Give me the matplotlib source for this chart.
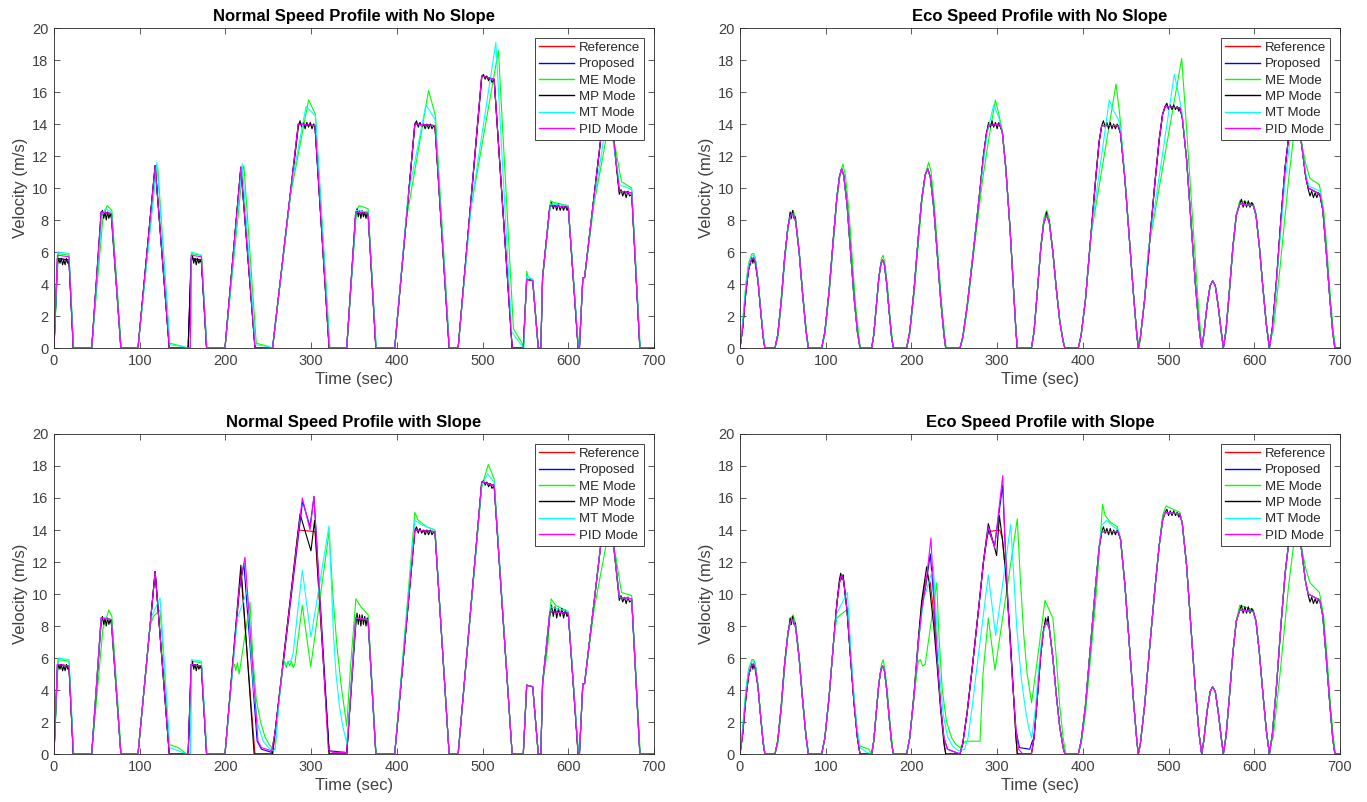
import numpy as np
import matplotlib
matplotlib.use("Agg")
import matplotlib.pyplot as plt

plt.rcParams['font.family'] = ['Liberation Sans', 'DejaVu Sans']

TITLES = ["Normal Speed Profile with No Slope", "Eco Speed Profile with No Slope",
          "Normal Speed Profile with Slope", "Eco Speed Profile with Slope"]
SERIES = ["Reference", "Proposed", "ME Mode", "MP Mode", "MT Mode", "PID Mode"]
COLORS = ["#ff0000", "#0000ff", "#00ff00", "#000000", "#00ffff", "#ff00ff"]
XTICKS = [0, 100, 200, 300, 400, 500, 600, 700]
YTICKS = [0, 2, 4, 6, 8, 10, 12, 14, 16, 18, 20]

# ---------------- reference profiles (time s, velocity m/s) ----------------
NORMAL_REF = [(0, 0), (4, 5.6), (17.5, 5.5), (22.5, 0), (44, 0), (55, 8.5), (67, 8.4), (78, 0), (98, 0),
              (118, 11.4), (134.5, 0), (156.5, 0), (160, 5.6), (172, 5.5), (178, 0), (199.5, 0), (218, 11.3),
              (234.5, 0), (255, 0), (285, 14), (304.5, 13.9), (321, 0), (341.5, 0), (352, 8.5), (366.5, 8.4),
              (375.5, 0), (397.5, 0), (421, 14), (444.5, 13.9), (461, 0), (471.5, 0), (499, 17), (513.5, 16.8),
              (534.5, 0), (547.5, 0), (551.5, 4.3), (558.5, 4.2), (565, 0), (568, 0), (570, 4.4), (578.5, 8.9),
              (600, 8.8), (611.5, 0), (613, 0), (617, 4.4), (619, 4.4), (641, 14.5), (650, 14.5), (659.5, 9.8),
              (674, 9.7), (683.5, 0), (700, 0)]

ECO_REF = [(0, 0), (3, 1.2), (7, 3.6), (10, 4.9), (13, 5.5), (15.6, 5.6), (18, 5.4), (21, 4.2), (24, 2.4),
           (27, 0.7), (29, 0), (40.8, 0), (44, 0.8), (48, 2.9), (52, 5.6), (56, 7.6), (59, 8.3), (62, 8.4),
           (65, 7.9), (69, 6.0), (73, 3.4), (77, 1.1), (79.7, 0), (95.3, 0), (99, 1.0), (104, 3.6), (109, 6.9),
           (113, 9.4), (116, 10.7), (118.6, 11.2), (121, 10.8), (125, 8.9), (129, 6.0), (133, 3.2), (137, 1.0),
           (140, 0), (153.6, 0), (156, 0.8), (159, 2.6), (162, 4.4), (164.5, 5.3), (166.4, 5.5), (168.5, 5.2),
           (171, 4.1), (174, 2.3), (177, 0.6), (179, 0), (194.4, 0), (198, 1.0), (203, 3.6), (208, 6.9),
           (212, 9.3), (216, 10.8), (219, 11.2), (222, 10.7), (226, 8.8), (230, 6.0), (234, 3.1), (238, 0.8),
           (240, 0), (256.7, 0), (260, 0.7), (265, 2.6), (272, 5.9), (279, 9.4), (284, 12.0), (287.5, 13.4),
           (290, 13.9), (303, 14.0), (306, 13.5), (310, 11.3), (315, 7.5), (319, 3.8), (322, 1.0), (323.5, 0),
           (340, 0), (343, 1.0), (347, 3.6), (351, 6.3), (354.5, 7.9), (357.8, 8.3), (361, 7.8), (365, 6.0),
           (369, 3.7), (373, 1.7), (377, 0.4), (379, 0), (394.7, 0), (398, 0.8), (403, 3.0), (409, 6.8),
           (415, 10.6), (419, 12.9), (422, 13.9), (441.4, 13.9), (444, 13.4), (449, 10.6), (454, 7.0),
           (459, 3.4), (463, 0.8), (464.7, 0), (467, 0.6), (472, 3.0), (478, 6.7), (484, 10.3), (489, 13.0),
           (493, 14.6), (496, 15.1), (513.3, 15.0), (516, 14.4), (521, 11.8), (526, 8.0), (531, 4.2),
           (535.5, 1.3), (538.6, 0), (541, 0.8), (545, 2.7), (548.5, 3.9), (551.4, 4.2), (554.5, 3.9),
           (558, 2.6), (561.5, 1.0), (563.9, 0), (567, 1.1), (571, 3.6), (575, 6.3), (579, 8.3), (583, 9.0),
           (598.9, 8.9), (602, 8.3), (606, 6.3), (610, 3.8), (614, 1.5), (617.6, 0), (621, 1.2), (626, 4.3),
           (631, 8.0), (636, 11.3), (641, 13.6), (646, 14.6), (650, 14.5), (655, 12.8), (660, 10.7),
           (663, 10.0), (670, 9.8), (676.7, 9.6), (680, 8.6), (684, 6.0), (688, 3.2), (691.5, 1.0), (694, 0),
           (700, 0)]

# ---------------- Normal profile, no slope: where modes depart from reference ----------------
NS_PROP = []
NS_ME = [
    [(0, 0), (5, 5.9), (17.5, 5.8), (23, 0)],
    [(44, 0), (57, 8.1), (62, 8.9), (67.5, 8.6), (78.5, 0)],
    [(98, 0), (119, 11.0), (121, 11.3), (135, 0.3), (150, 0.1), (155, 0)],
    [(159, 0), (160.5, 5.9), (172, 5.8), (178.5, 0)],
    [(199.5, 0), (220, 11.1), (221.5, 11.4), (236, 0.3), (250, 0.1), (254, 0)],
    [(255, 0), (275, 9.3), (297, 15.5), (305, 14.6), (322, 0)],
    [(341.5, 0), (353, 8.6), (356, 8.9), (366.5, 8.7), (376, 0)],
    [(397.5, 0), (411, 8.0), (437, 16.1), (445, 14.5), (461.5, 0)],
    [(471.5, 0), (485, 8.3), (518.5, 18.6), (536, 1.2), (546, 0.3), (548, 0), (551.5, 4.8), (553, 4.4),
     (558.5, 4.3), (565, 0)],
    [(568, 0), (570, 4.3), (579.5, 9.2), (583, 9.1), (600, 8.9), (612, 0)],
    [(617, 4.4), (619, 4.4), (630, 9.0), (648, 14.2), (655, 12.5), (662, 10.4), (674, 10.0), (684, 0)],
]
NS_MT = [
    [(0, 0), (4.5, 6.0), (17.5, 5.9), (22.8, 0)],
    [(44, 0), (56, 8.4), (60, 8.7), (67, 8.5), (78, 0)],
    [(98, 0), (120, 11.6), (135, 0.2), (150, 0.1), (155, 0)],
    [(159, 0), (160.3, 6.0), (172, 5.8), (178.3, 0)],
    [(199.5, 0), (219.5, 11.5), (235, 0.2), (250, 0.1), (254, 0)],
    [(255, 0), (278, 10.5), (294, 15.1), (305, 14.5), (321.5, 0)],
    [(341.5, 0), (352.5, 8.6), (366.5, 8.5), (375.8, 0)],
    [(397.5, 0), (413, 9.5), (434, 15.2), (444.5, 14.3), (461.2, 0)],
    [(471.5, 0), (487, 9.0), (515.5, 19.1), (534, 1.0), (545, 0.2), (548, 0), (551.5, 4.5), (558.5, 4.3),
     (565, 0)],
    [(568, 0), (570, 4.4), (579, 9.0), (600, 8.9), (611.8, 0)],
    [(617, 4.4), (619, 4.4), (628, 8.5), (645, 14.3), (652, 13.0), (660, 10.2), (674, 9.9), (683.7, 0)],
]
NS_MP = [
    [(4, 5.2), (5.5, 5.6), (7, 5.3), (8.5, 5.6), (10, 5.2), (11.5, 5.5), (13, 5.2), (14.5, 5.6), (16, 5.3),
     (17.5, 5.4)],
    [(55, 8.2), (56.5, 8.6), (58, 8.1), (59.5, 8.5), (61, 8.0), (62.5, 8.5), (64, 8.1), (65.5, 8.4),
     (67, 8.1)],
    [(160, 5.3), (161.5, 5.8), (163, 5.3), (164.5, 5.6), (166, 5.2), (167.5, 5.6), (169, 5.3), (170.5, 5.5),
     (172, 5.3)],
    [(285, 13.8), (287, 14.2), (289, 13.8), (291, 14.1), (293, 13.7), (295, 14.1), (297, 13.8), (299, 14.1),
     (301, 13.7), (303, 14.0), (304.5, 13.8)],
    [(352, 8.3), (353.5, 8.7), (355, 8.2), (356.5, 8.6), (358, 8.1), (359.5, 8.6), (361, 8.2), (362.5, 8.5),
     (364, 8.1), (365.5, 8.5), (366.5, 8.3)],
    [(421, 14.0), (423, 14.2), (425, 13.8), (427, 14.1), (429, 13.8), (431, 14.0), (433, 13.7), (435, 14.0),
     (437, 13.7), (439, 14.0), (441, 13.7), (443, 13.9), (444.5, 13.8)],
    [(499, 16.9), (501, 17.1), (503, 16.8), (505, 17.0), (507, 16.7), (509, 16.9), (511, 16.6),
     (513.5, 16.8)],
    [(578.5, 8.8), (580.5, 9.1), (582.5, 8.7), (584.5, 9.0), (586.5, 8.6), (588.5, 9.0), (590.5, 8.6),
     (592.5, 8.9), (594.5, 8.6), (596.5, 8.9), (598.5, 8.6), (600, 8.8)],
    [(659.5, 9.6), (661.5, 9.9), (663.5, 9.5), (665.5, 9.8), (667.5, 9.4), (669.5, 9.8), (671.5, 9.5),
     (674, 9.6)],
]
NS_PID = [
    [(0, 0), (4, 5.8), (17.5, 5.7), (22.5, 0)],
    [(159, 0), (160, 5.8), (172, 5.7), (178, 0)],
]

# ---------------- Normal profile, with slope ----------------
NL_PROP = [
    [(199.5, 0), (216, 10.2), (221.5, 11.9), (237, 0.8), (242, 0.3), (254, 0.1), (258, 1.4), (290, 15.8),
     (298.7, 14.2), (303.3, 16.1), (321, 0.2), (340, 0.1), (341.5, 0)],
]
NL_ME = [
    [(0, 0), (5, 5.9), (17.5, 5.8), (23, 0)],
    [(44, 0), (57, 7.8), (64, 9.0), (67.5, 8.6), (78.5, 0)],
    [(98, 0), (112, 8.0), (116, 8.6), (123.7, 9.0), (126, 7.4), (134.5, 0.6), (145, 0.4), (155, 0)],
    [(159, 0), (160.5, 5.8), (172, 5.7), (178.5, 0)],
    [(199.5, 0), (208.5, 5.5), (210.5, 5.6), (212, 5.2), (214, 5.7), (216, 5.0), (228.7, 9.5), (232, 6.0),
     (236, 3.4), (241, 2.0), (246, 1.1), (251, 0.6), (256, 0.3), (258, 0.3), (262, 3.0), (266.8, 5.5),
     (269, 5.8), (271, 5.4), (273, 5.8), (275, 5.5), (277, 5.8), (279, 5.4), (281, 5.6), (289.7, 9.3),
     (299.5, 5.45), (321, 13.9), (325, 10.2), (330, 6.8), (335, 4.3), (341.5, 1.75), (346, 5.5),
     (352.2, 9.7), (358, 9.2), (366.5, 8.7), (375.8, 0)],
    [(397.5, 0), (421, 15.1), (425, 14.6), (435, 14.2), (444.5, 14.0), (461, 0)],
    [(471.5, 0), (499, 16.7), (506.7, 18.1), (513.5, 17.2), (534.5, 0)],
    [(568, 0), (570, 4.3), (576, 6.7), (580, 9.7), (585, 9.3), (600, 8.9), (612, 0)],
    [(617, 4.4), (619, 4.4), (630, 9.0), (648, 14.2), (655, 12.5), (662, 10.1), (674, 9.9), (684, 0)],
]
NL_MT = [
    [(0, 0), (4.5, 6.0), (17.5, 5.9), (22.8, 0)],
    [(98, 0), (113, 8.5), (123.7, 9.75), (126, 8.0), (135, 0.4), (145, 0.2), (155, 0)],
    [(159, 0), (160.3, 5.9), (172, 5.8), (178.3, 0)],
    [(199.5, 0), (214, 8.5), (225.6, 10.25), (229, 7.0), (233, 4.0), (238, 1.8), (244, 0.8), (250, 0.4),
     (256, 0.2), (258, 0.3), (262, 3.0), (266.8, 5.5), (275, 5.8), (277, 5.9), (279, 6.3), (289.7, 11.5),
     (299.8, 7.3), (320.8, 14.25), (323, 11.5), (326, 7.5), (329, 5.0), (333, 3.0), (337, 1.7),
     (341.5, 0.7), (344, 2.2), (352, 8.5)],
    [(397.5, 0), (421, 14.6), (430, 14.3), (444.5, 14.0), (461, 0)],
    [(471.5, 0), (499, 16.8), (506, 17.5), (513.5, 17.0), (534.5, 0)],
    [(568, 0), (570, 4.4), (579, 9.2), (600, 8.9), (611.8, 0)],
]
NL_MP = [
    NS_MP[0], NS_MP[1], NS_MP[2],
    [(199.5, 0), (218, 11.8), (233.5, 0)],
    [(255, 0), (287, 15.0), (299.8, 12.7), (304, 14.6), (321, 0)],
    [(352, 8.0), (353.5, 8.8), (355, 8.1), (356.5, 8.7), (358, 8.0), (359.5, 8.7), (361, 8.1), (362.5, 8.6),
     (364, 8.0), (365.5, 8.5), (366.5, 8.2)],
    NS_MP[5], NS_MP[6],
    [(578.5, 8.7), (580.5, 9.3), (582.5, 8.6), (584.5, 9.2), (586.5, 8.5), (588.5, 9.1), (590.5, 8.6),
     (592.5, 9.1), (594.5, 8.5), (596.5, 9.0), (598.5, 8.6), (600, 8.8)],
    NS_MP[8],
]
NL_PID = [
    [(199.5, 0), (216, 10.3), (222.8, 12.3), (238, 0.8), (242, 0.4), (254, 0.2), (258, 1.4), (289.7, 16.0),
     (298.7, 14.0), (303.3, 16.1), (320, 0.3), (325, 0.1), (340, 0.1), (341.5, 0)],
]

# ---------------- Eco profile, no slope ----------------
ES_PROP = []
ES_ME = [
    [(0, 0), (3, 1.6), (7, 4.1), (10, 5.3), (14, 5.9), (16, 5.9), (18, 5.6), (21, 4.3), (24, 2.5), (27, 0.8),
     (29.5, 0)],
    [(40.8, 0), (44, 0.6), (48, 2.6), (52, 5.3), (56, 7.5), (59.5, 8.4), (62, 8.6), (65, 8.1), (69, 6.2),
     (73, 3.6), (77, 1.3), (80, 0)],
    [(95.3, 0), (99, 0.8), (104, 3.3), (109, 6.6), (113, 9.2), (117, 10.9), (120, 11.5), (123, 10.8),
     (127, 8.6), (131, 5.6), (135, 2.6), (139, 0.6), (140.5, 0)],
    [(153.6, 0), (156, 0.8), (159, 2.6), (162, 4.4), (165, 5.6), (167, 5.8), (169, 5.3), (172, 3.9),
     (175, 2.0), (178, 0.4), (179.5, 0)],
    [(194.4, 0), (198, 0.8), (203, 3.3), (208, 6.5), (212, 9.0), (216, 10.8), (220, 11.6), (223, 11.0),
     (227, 8.8), (231, 5.8), (235, 2.9), (239, 0.7), (240.5, 0)],
    [(256.7, 0), (260, 0.6), (265, 2.4), (275, 7.0), (283, 10.5), (290, 13.0), (298, 15.5), (302, 14.6),
     (306, 13.6), (310, 11.4), (315, 7.6), (319, 3.9), (322, 1.1), (324, 0)],
    [(340, 0), (343, 1.0), (347, 3.6), (351, 6.4), (354.5, 8.1), (358, 8.6), (361, 8.0), (365, 6.1),
     (369, 3.8), (373, 1.8), (377, 0.5), (379.5, 0)],
    [(394.7, 0), (398, 0.8), (403, 3.0), (410, 7.2), (438.7, 16.5), (443, 14.6), (447, 12.0), (452, 8.6),
     (457, 4.9), (461, 2.0), (464.7, 0.3), (465.5, 0)],
    [(467, 0.6), (472, 3.0), (476.4, 6.1), (515.3, 18.1), (520, 14.5), (525, 10.5), (530, 6.5), (535, 2.5),
     (539, 0)],
    [(563.9, 0), (567, 1.0), (571, 3.4), (575, 6.1), (579, 8.3), (583, 9.2), (598.9, 9.0), (602, 8.4),
     (606, 6.4), (610, 3.9), (614, 1.6), (617.6, 0)],
    [(619, 0.6), (622, 1.0), (630, 5.0), (640, 10.5), (648, 14.2), (653, 13.5), (660, 11.5), (665, 10.6),
     (676, 10.2), (681, 8.6), (685, 6.0), (689, 3.0), (692.5, 0.9), (695, 0)],
]
ES_MT = [
    [(0, 0), (3, 1.5), (7, 4.0), (10, 5.2), (14, 5.8), (16, 5.8), (18, 5.5), (21, 4.3), (24, 2.5), (27, 0.8),
     (29.3, 0)],
    [(256.7, 0), (260, 0.7), (265, 2.6), (275, 7.5), (283, 11.2), (289, 13.6), (296, 15.2), (302, 14.4),
     (306, 13.5), (310, 11.3), (315, 7.5), (319, 3.8), (322, 1.0), (323.8, 0)],
    [(394.7, 0), (398, 0.8), (403, 3.0), (410, 7.4), (430.8, 15.5), (436, 14.8), (441.4, 14.3), (444, 13.6),
     (449, 10.7), (454, 7.0), (459, 3.4), (463, 0.8), (464.7, 0)],
    [(467, 0.6), (472, 3.0), (476, 6.0), (506.7, 17.1), (512, 15.8), (516, 14.6), (521, 11.8), (526, 8.0),
     (531, 4.2), (535.5, 1.3), (538.6, 0)],
    [(619, 0.5), (622, 1.3), (628, 5.5), (636, 10.5), (644, 14.0), (650, 14.2), (655, 12.8), (660, 10.9),
     (664, 10.1), (676.7, 9.8), (680, 8.7), (684, 6.0), (688, 3.2), (691.5, 1.0), (694, 0)],
]
ES_MP = [
    [(12, 5.3), (13.5, 5.7), (15, 5.3), (16.5, 5.7), (18, 5.2)],
    [(57, 7.9), (58.5, 8.5), (60, 8.1), (61.5, 8.6), (63, 8.1), (64.5, 8.2)],
    [(287.5, 13.4), (290, 14.1), (292, 13.8), (294, 14.2), (296, 13.8), (298, 14.1), (300, 13.7),
     (302, 14.1), (303, 13.9)],
    [(356, 8.0), (357.5, 8.5), (359, 8.1), (360.5, 8.0)],
    [(422, 13.9), (424, 14.2), (426, 13.8), (428, 14.1), (430, 13.7), (432, 14.1), (434, 13.7), (436, 14.0),
     (438, 13.7), (440, 14.0), (441.4, 13.8)],
    [(496, 15.1), (498, 15.3), (500, 14.9), (502, 15.2), (504, 14.9), (506, 15.2), (508, 14.9), (510, 15.1),
     (512, 14.8), (513.3, 15.0)],
    [(583, 9.0), (585, 9.3), (587, 8.8), (589, 9.2), (591, 8.8), (593, 9.2), (595, 8.8), (597, 9.1),
     (598.9, 8.9)],
    [(663, 9.9), (665, 9.5), (667, 9.8), (669, 9.4), (671, 9.7), (673, 9.4), (675, 9.7), (676.7, 9.5)],
]
ES_PID = []

# ---------------- Eco profile, with slope ----------------
EL_PROP = [
    [(194.4, 0), (198, 1.0), (203, 3.6), (208, 6.9), (212, 9.0), (217, 10.6), (222, 12.5), (226, 9.8),
     (230, 6.0), (234, 3.0), (238, 1.0), (242, 0.3), (256.7, 0), (260, 0.7), (265, 2.6), (272, 5.9),
     (279, 9.4), (284, 12.0), (289.7, 14.0), (297, 13.0), (306.5, 16.8), (309, 13.5), (313, 9.0),
     (318, 4.5), (322, 1.5), (326, 0.4), (338, 0.3), (341, 0.8)],
]
EL_ME = [
    ES_ME[0],
    [(40.8, 0), (44, 0.6), (48, 2.6), (52, 5.3), (56, 7.5), (59.5, 8.5), (62, 8.7), (65, 8.1), (69, 6.2),
     (73, 3.6), (77, 1.3), (80, 0)],
    [(95.3, 0), (99, 1.0), (104, 3.6), (109, 6.9), (112.8, 8.5), (126.4, 9.1), (129, 6.5), (133, 3.5),
     (137, 1.4), (140, 0.5), (145, 0.4), (150, 0.3), (153.6, 0)],
    [(155, 0.3), (156, 0.8), (159, 2.6), (162, 4.4), (165, 5.6), (167, 5.9), (169, 5.3), (172, 3.9),
     (175, 2.0), (178, 0.4), (179.5, 0)],
    [(194.4, 0), (198, 1.0), (203, 3.6), (208, 5.8), (210.4, 5.9), (213, 5.5), (216, 5.6), (229.5, 10.7),
     (232, 7.5), (236, 4.0), (241, 2.0), (247, 1.0), (252, 0.6), (257, 0.4), (260, 0.6), (263, 0.8),
     (280, 0.8), (283.5, 5.0), (289.7, 8.5), (297.5, 5.25), (323.5, 14.7), (327, 11.0), (331, 7.5),
     (335, 5.0), (340.2, 3.2), (346, 5.5), (355.8, 9.6), (365, 8.5), (369, 6.0), (373, 3.0), (377, 1.0),
     (380, 0)],
    [(394.7, 0), (398, 0.6), (403, 2.5), (409, 6.0), (415, 9.6), (419, 12.5), (423, 15.6), (426, 14.9),
     (432, 14.5), (440, 14.2), (444, 13.5), (449, 10.7), (454, 7.0), (459, 3.4), (463, 0.8), (464.7, 0)],
    [(489, 13.0), (493, 14.9), (497, 15.5), (505, 15.3), (513.3, 15.1), (516, 14.4)],
    [(579, 8.3), (583, 9.3), (598.9, 9.0), (602, 8.3)],
    [(619, 0.6), (622, 1.0), (630, 5.0), (640, 10.5), (648, 14.0), (653, 13.5), (660, 11.6), (665, 10.7),
     (676, 10.1), (681, 8.6), (685, 6.0), (689, 3.0), (692.5, 0.9), (695, 0)],
]
EL_MT = [
    ES_MT[0],
    [(95.3, 0), (99, 1.0), (104, 3.6), (109, 6.9), (113, 8.8), (125.3, 10.1), (128, 7.5), (132, 4.3),
     (136, 1.8), (140, 0.4), (148, 0.1), (153.6, 0)],
    [(194.4, 0), (198, 1.0), (203, 3.6), (208, 6.9), (214, 9.6), (225.6, 11.7), (229, 8.5), (233, 5.0),
     (237, 2.5), (242, 1.1), (248, 0.5), (255, 0.2), (262, 0.3), (266, 1.0), (271, 3.0), (276, 5.25),
     (289.7, 11.2), (298.3, 7.4), (315.8, 14.35), (319, 11.5), (323, 7.8), (328, 4.8), (333, 2.8),
     (337, 1.6), (340.2, 1.0), (344, 2.5), (348, 5.0), (352, 7.2), (357.8, 8.3)],
    [(419, 12.9), (422, 14.3), (428, 14.6), (436, 14.2), (441.4, 14.0)],
]
EL_MP = [
    ES_MP[0], ES_MP[1],
    [(116, 10.9), (117.5, 11.3), (119, 10.9), (120.5, 11.2)],
    [(194.4, 0), (198, 1.0), (203, 3.8), (208, 7.2), (212, 9.6), (217.8, 11.7), (221, 10.5), (226, 8.0),
     (230, 5.5), (234, 2.8), (238, 0.6), (240, 0), (256.7, 0), (260, 0.7), (265, 2.6), (272, 5.9),
     (279, 9.4), (284, 12.0), (289.7, 14.4), (299.4, 12.4), (302.6, 14.9), (306, 13.5), (310, 11.3),
     (315, 7.5), (319, 3.8), (322, 1.0), (323.5, 0)],
    [(355, 8.0), (356.5, 8.5), (358, 8.1), (359.5, 8.6), (361, 7.8)],
    ES_MP[4], ES_MP[5], ES_MP[6], ES_MP[7],
]
EL_PID = [
    [(194.4, 0), (198, 1.0), (203, 3.6), (208, 6.9), (212, 9.0), (217, 10.7), (222.8, 13.5), (226, 10.0),
     (230, 6.0), (234, 3.0), (238, 1.0), (242, 0.3), (256.7, 0), (260, 0.7), (265, 2.6), (272, 5.9),
     (279, 9.4), (284, 12.0), (289.7, 14.2), (297, 12.9), (306.5, 17.4), (309, 13.5), (313, 9.0),
     (318, 4.5), (322, 1.5), (325, 0.3), (330, 0)],
]

PANELS = [
    (NORMAL_REF, [NS_PROP, NS_ME, NS_MP, NS_MT, NS_PID]),
    (ECO_REF, [ES_PROP, ES_ME, ES_MP, ES_MT, ES_PID]),
    (NORMAL_REF, [NL_PROP, NL_ME, NL_MP, NL_MT, NL_PID]),
    (ECO_REF, [EL_PROP, EL_ME, EL_MP, EL_MT, EL_PID]),
]


def build(ref, patches):
    pts = list(ref)
    for p in patches:
        a, b = p[0][0], p[-1][0]
        pts = [q for q in pts if not (a <= q[0] <= b)]
        pts += list(p)
    pts.sort(key=lambda q: q[0])
    arr = np.array(pts, dtype=float)
    return arr[:, 0], arr[:, 1]


W, H = 1367, 802
fig = plt.figure(figsize=(W / 100, H / 100), dpi=100)
axpos = [(54, 28), (740, 28), (54, 434), (740, 434)]
aw, ah = 600, 320
gray = "#262626"
tickgray = "#404040"

for i, (ref, mods) in enumerate(PANELS):
    x0, y0 = axpos[i]
    ax = fig.add_axes([x0 / W, 1 - (y0 + ah) / H, aw / W, ah / H])
    lists = [[]] + mods
    for name, col, patches in zip(SERIES, COLORS, lists):
        t, v = build(ref, patches)
        ax.plot(t, v, color=col, lw=0.8, label=name)
    ax.set_xlim(0, 700)
    ax.set_ylim(0, 20)
    ax.set_xticks(XTICKS)
    ax.set_yticks(YTICKS)
    ax.tick_params(direction='in', top=True, right=True, length=4, width=0.6,
                   labelsize=10.5, colors=tickgray, pad=4)
    for s in ax.spines.values():
        s.set_color(gray)
        s.set_linewidth(0.6)
    ax.set_title(TITLES[i], fontsize=12, fontweight='bold', pad=5)
    ax.set_xlabel("Time (sec)", fontsize=12, color=tickgray, labelpad=3)
    ax.set_ylabel("Velocity (m/s)", fontsize=12, color=tickgray, labelpad=3)
    leg = ax.legend(loc='upper right', fontsize=9.5, fancybox=False, framealpha=1,
                    edgecolor=gray, borderpad=0.3, labelspacing=0.31, handlelength=2.7,
                    handletextpad=0.35, borderaxespad=0.75)
    leg.get_frame().set_linewidth(0.6)
    for txt in leg.get_texts():
        txt.set_color(gray)
    for ln in leg.get_lines():
        ln.set_linewidth(1.0)

fig.savefig("out.png", dpi=100, facecolor='white')
